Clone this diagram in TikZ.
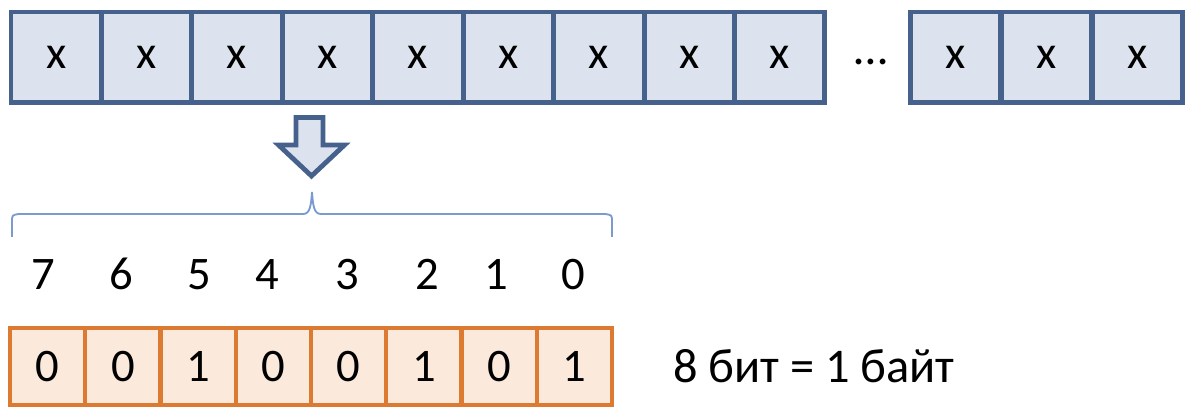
\documentclass[tikz,border=0pt]{standalone}
\usepackage{fontspec}
\setmainfont{Carlito}
\definecolor{bluestroke}{HTML}{46618C}
\definecolor{bluefill}{HTML}{DCE3EF}
\definecolor{orangestroke}{HTML}{DD7A32}
\definecolor{orangefill}{HTML}{FBEADB}
\definecolor{bracecol}{HTML}{7B9BD0}
\tikzset{
  every node/.style={font=\fontsize{35}{42}\selectfont, inner sep=0pt, outer sep=0pt},
  xcell/.style={draw=bluestroke, fill=bluefill, line width=3.7pt, minimum width=67.8pt, minimum height=68.2pt},
  bitcell/.style={draw=orangestroke, fill=orangefill, line width=3.3pt, minimum width=56.4pt, minimum height=57.8pt},
  blockarrow/.style={draw=bluestroke, fill=bluefill, line width=3.6pt, line join=miter},
  bracestyle/.style={draw=bracecol, line width=1.4pt},
  numlabel/.style={anchor=base}
}
\begin{document}
\begin{tikzpicture}[x=0.75pt, y=-0.75pt]
\useasboundingbox (0,0) rectangle (1196,416);
% top row, first group
\foreach \i in {0,...,8} {
  \node[xcell] (a\i) at ({11+45.22+90.44*\i},57.5) {x};
}
\node (dots) at (871,62) {\fontsize{36}{42}\selectfont …};
\foreach \i in {0,1,2} {
  \node[xcell] (b\i) at ({910+45.5+91*\i},57.5) {x};
}
% block arrow
\draw[blockarrow] (296,117.5) -- (323,117.5) -- (323,145) -- (344.5,145) -- (311.5,176) -- (278.5,145) -- (296,145) -- cycle;
% brace
\coordinate (bl) at (12,237);
\coordinate (br) at (612,237);
\coordinate (btip) at (312,192);
\draw[bracestyle] (bl) -- (12,222) .. controls (12,215) .. (19,214) -- (303,214)
  .. controls (310,214) and (311,206) .. (btip)
  .. controls (313,206) and (314,214) .. (321,214) -- (605,214)
  .. controls (612,215) .. (612,222) -- (br);
% bit numbers
\node[numlabel] (n7) at (43,290) {7};
\node[numlabel] (n6) at (121,290) {6};
\node[numlabel] (n5) at (199,290) {5};
\node[numlabel] (n4) at (267,290) {4};
\node[numlabel] (n3) at (347,290) {3};
\node[numlabel] (n2) at (427,290) {2};
\node[numlabel] (n1) at (496,290) {1};
\node[numlabel] (n0) at (573,290) {0};
% bits
\foreach \v [count=\i from 0] in {0,0,1,0,0,1,0,1} {
  \node[bitcell] (c\i) at ({10+37.625+75.25*\i},366.5) {\v};
}
\node[anchor=base west, font=\fontsize{36.3}{42}\selectfont] (label) at (673,383) {8 бит = 1 байт};
\end{tikzpicture}
\end{document}
